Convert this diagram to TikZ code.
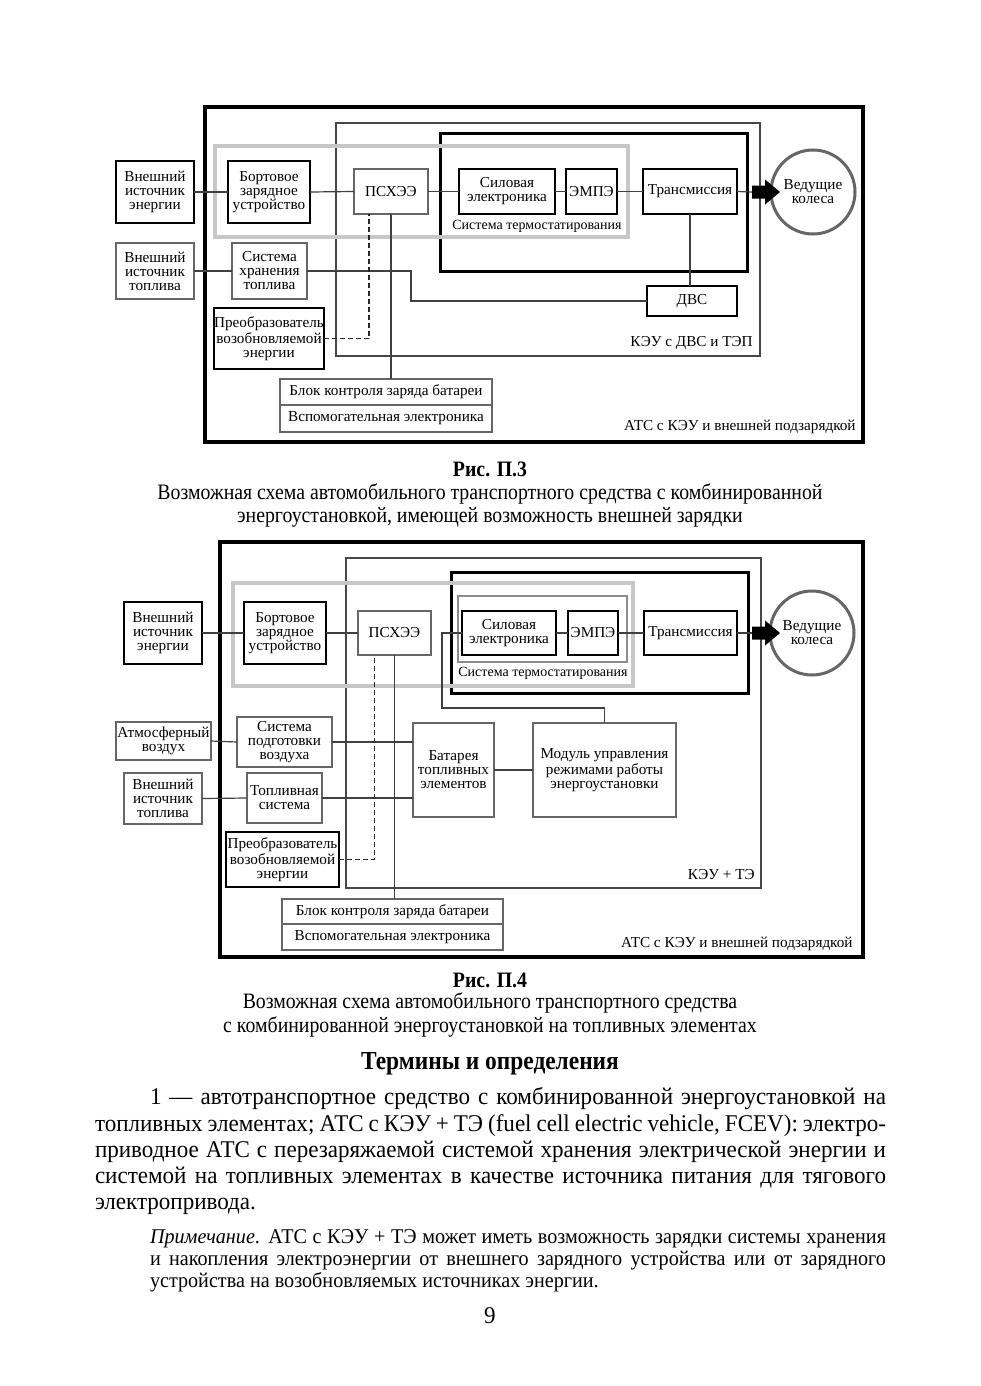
\documentclass[tikz,border=0pt]{standalone}
\usepackage{fontspec}
\setmainfont{Liberation Serif}
\newfontfamily\narrowff[FakeStretch=0.9]{Liberation Serif}
\newfontfamily\bodyff[FakeStretch=0.96]{Liberation Serif}
\usetikzlibrary{calc}
\newcommand\dgfont{\fontsize{7.6}{7}\selectfont}
\newcommand\capfont{\narrowff\fontsize{11}{12}\selectfont}
\newcommand\bodyfont{\bodyff\fontsize{12}{13}\selectfont}
\newcommand\notefont{\bodyff\fontsize{10.5}{11}\selectfont}
\newcommand\bx[7]{\node[#1, minimum width={(#5-#3)*0.5pt}, minimum height={(#6-#4)*0.5pt}] (#2) at ({(#3+#5)/2},{(#4+#6)/2}) {#7};}
\newcommand\bigarrowat[1]{\fill[black] (#1) ++(0,-6.5) -- ++(13,0) -- ++(0,-6) -- ++(15,12.5) -- ++(-15,12.5) -- ++(0,-6) -- ++(-13,0) -- cycle;}
\tikzset{
  box/.style={inner sep=0pt, outer sep=0pt, align=center, font=\dgfont},
  thickbox/.style={box, draw=black, line width=1.4pt},
  thinbox/.style={box, draw=black!60, line width=0.6pt},
  medbox/.style={box, draw=black, line width=1pt},
  conn/.style={draw=black!75, line width=0.6pt},
  dconn/.style={draw=black!85, line width=0.8pt, dash pattern=on 2.5pt off 1.5pt},
  atsframe/.style={draw=black, line width=1.7pt},
  keuframe/.style={draw=black!72, line width=1.3pt},
  innerframe/.style={draw=black, line width=1.5pt},
  thermoframe/.style={draw=black!22, line width=1.8pt},
  thinframe/.style={draw=black!45, line width=0.6pt},
  wheel/.style={circle, draw=black!60, line width=1.5pt, inner sep=0pt, minimum size=42pt, align=center, font=\dgfont},
  lbl/.style={inner sep=0pt, font=\dgfont},
  smalllbl/.style={inner sep=0pt, font=\fontsize{7}{7}\selectfont},
  txt/.style={inner sep=0pt, outer sep=0pt},
}
\begin{document}
\begin{tikzpicture}[x=0.5pt,y=-0.5pt]
\useasboundingbox[fill=white] (0,0) rectangle (980,1386);

% ================= TOP DIAGRAM =================
\draw[atsframe] (205,107) rectangle (863,442);
\draw[keuframe] (336,123) rectangle (760,356);
\draw[innerframe] (440,134) rectangle (747,271);
\draw[thermoframe] (215,146) rectangle (628,237);

\bx{thickbox}{Tenergy}{116}{161}{194}{223}{Внешний\\источник\\энергии}
\bx{thickbox}{Tcharger}{228}{161}{310}{223}{Бортовое\\зарядное\\устройство}
\bx{thinbox}{Tpsx}{354}{169}{428}{214}{ПСХЭЭ}
\bx{thickbox}{Tpower}{459}{169}{555}{214}{Силовая\\электроника}
\bx{thickbox}{Temp}{566}{169}{617}{214}{ЭМПЭ}
\bx{thickbox}{Ttrans}{643}{169}{737}{214}{Трансмиссия}
\bx{thinbox}{Tfuel}{116}{243}{194}{299}{Внешний\\источник\\топлива}
\bx{thinbox}{Tstore}{232}{243}{307}{299}{Система\\хранения\\топлива}
\bx{medbox}{Tice}{647}{286}{737}{316}{ДВС}
\bx{thickbox}{Tconv}{214}{308}{324}{369}{Преобразователь\\возобновляемой\\энергии}
\bx{thinbox}{Tbms}{280}{379}{492}{405}{Блок контроля заряда батареи}
\bx{thinbox}{Taux}{280}{405}{492}{432}{Вспомогательная электроника}
\node[wheel] (Twheels) at (813,192) {Ведущие\\колеса};
\coordinate (Tarr) at (752,192);
\bigarrowat{Tarr}

\node[smalllbl] (Tthermo) at (537,226) {Система термостатирования};
\node[lbl, anchor=east] (Tkeu) at (753,343) {КЭУ с ДВС и ТЭП};
\node[lbl, anchor=east] (Tats) at (856,427) {АТС с КЭУ и внешней подзарядкой};

\draw[conn] (Tenergy.east) -- (Tcharger.west);
\draw[conn] (Tcharger.east) -- (Tpsx.west);
\draw[conn] (Tpsx.east) -- (Tpower.west);
\draw[conn] (Tpower.east) -- (Temp.west);
\draw[conn] (Temp.east) -- (Ttrans.west);
\draw[conn] (Ttrans.east) -- (Tarr);
\draw[conn] (Tfuel.east) -- (Tstore.west);
\draw[conn] (Tstore.east) -- ++(104,0) |- (Tice.west);
\draw[conn] (Ttrans.south) -- (Ttrans.south |- Tice.north);
\draw[dconn] (Tconv.east) -| ($(Tpsx.south)+(-22,0)$);
\draw[conn] (Tpsx.south) -- (Tpsx.south |- Tbms.north);

% ================= CAPTION 1 =================
\node[txt, anchor=base] (cap1a) at (490,476) {\capfont\bfseries Рис. П.3};
\node[txt, anchor=base] (cap1b) at (490,499) {\capfont Возможная схема автомобильного транспортного средства с комбинированной};
\node[txt, anchor=base] (cap1c) at (490,522) {\capfont энергоустановкой, имеющей возможность внешней зарядки};

% ================= BOTTOM DIAGRAM =================
\draw[atsframe] (220,542) rectangle (863,957);
\draw[keuframe] (346,558) rectangle (761,888);
\draw[innerframe] (451,572) rectangle (748,693);
\draw[thermoframe] (233,583) rectangle (633,686);
\draw[thinframe] (458,596) rectangle (627,662);

\bx{thickbox}{Benergy}{124}{602}{202}{664}{Внешний\\источник\\энергии}
\bx{thickbox}{Bcharger}{244}{602}{326}{664}{Бортовое\\зарядное\\устройство}
\bx{thinbox}{Bpsx}{358}{611}{431}{655}{ПСХЭЭ}
\bx{thickbox}{Bpower}{462}{611}{556}{655}{Силовая\\электроника}
\bx{thickbox}{Bemp}{568}{611}{618}{655}{ЭМПЭ}
\bx{thickbox}{Btrans}{644}{611}{737}{655}{Трансмиссия}
\bx{thinbox}{Bair}{116}{722}{211}{760}{Атмосферный\\воздух}
\bx{thinbox}{Bairprep}{237}{717}{332}{767}{Система\\подготовки\\воздуха}
\bx{thinbox}{Bstack}{413}{723}{494}{817}{Батарея\\топливных\\элементов}
\bx{thinbox}{Bctrl}{533}{723}{676}{817}{Модуль управления\\режимами работы\\энергоустановки}
\bx{thinbox}{Bfuel}{124}{773}{202}{824}{Внешний\\источник\\топлива}
\bx{thinbox}{Bfuelsys}{247}{773}{322}{823}{Топливная\\система}
\bx{thickbox}{Bconv}{226}{832}{339}{887}{Преобразователь\\возобновляемой\\энергии}
\bx{thinbox}{Bbms}{282}{899}{503}{924}{Блок контроля заряда батареи}
\bx{thinbox}{Baux}{282}{924}{503}{950}{Вспомогательная электроника}
\node[wheel] (Bwheels) at (812,633) {Ведущие\\колеса};
\coordinate (Barr) at (752,633);
\bigarrowat{Barr}

\node[smalllbl] (Bthermo) at (543,673) {Система термостатирования};
\node[lbl, anchor=east] (Bkeu) at (755,875) {КЭУ + ТЭ};
\node[lbl, anchor=east] (Bats) at (853,944) {АТС с КЭУ и внешней подзарядкой};

\draw[conn] (Benergy.east) -- (Bcharger.west);
\draw[conn] (Bcharger.east) -- (Bpsx.west);
\draw[conn] (Bpower.east) -- (Bemp.west);
\draw[conn] (Bemp.east) -- (Btrans.west);
\draw[conn] (Btrans.east) -- (Barr);
\draw[conn] (Bpower.west) -- ++(-20,0) |- ($(Bctrl.north)+(0,-15)$) -- (Bctrl.north);
\draw[conn] (Bair.east) -- (Bairprep.west);
\draw[conn] (Bairprep.east) -- (Bairprep.east -| Bstack.west);
\draw[conn] (Bfuel.east) -- (Bfuelsys.west);
\draw[conn] (Bfuelsys.east) -- (Bfuelsys.east -| Bstack.west);
\draw[conn] (Bstack.east) -- (Bctrl.west);
\draw[dconn] (Bconv.east) -| ($(Bpsx.south)+(-20,0)$);
\draw[conn] (Bpsx.south) -- (Bpsx.south |- Bbms.north);

% ================= CAPTION 2 =================
\node[txt, anchor=base] (cap2a) at (490,987) {\capfont\bfseries Рис. П.4};
\node[txt, anchor=base] (cap2b) at (490,1008) {\capfont Возможная схема автомобильного транспортного средства};
\node[txt, anchor=base] (cap2c) at (490,1032) {\capfont с комбинированной энергоустановкой на топливных элементах};

% ================= TEXT =================
\node[txt, anchor=base] (head) at (490,1069) {\narrowff\fontsize{13}{14}\selectfont\bfseries Термины и определения};
\node[txt, anchor=base west] (p1) at (150,1104) {\bodyfont\makebox[368pt][s]{1 — автотранспортное средство с комбинированной энергоустановкой на}};
\node[txt, anchor=base west] (p2) at (95,1131) {\bodyfont\makebox[395.5pt][s]{топливных элементах; АТС с КЭУ + ТЭ (fuel cell electric vehicle, FCEV): электро-}};
\node[txt, anchor=base west] (p3) at (95,1157) {\bodyfont\makebox[395.5pt][s]{приводное АТС с перезаряжаемой системой хранения электрической энергии и}};
\node[txt, anchor=base west] (p4) at (95,1183) {\bodyfont\makebox[395.5pt][s]{системой на топливных элементах в качестве источника питания для тягового}};
\node[txt, anchor=base west] (p5) at (95,1209) {\bodyfont электропривода.};
\node[txt, anchor=base west] (n1) at (150,1243) {\notefont\makebox[368pt][s]{\textit{Примечание}. АТС с КЭУ + ТЭ может иметь возможность зарядки системы хранения}};
\node[txt, anchor=base west] (n2) at (150,1265) {\notefont\makebox[368pt][s]{и накопления электроэнергии от внешнего зарядного устройства или от зарядного}};
\node[txt, anchor=base west] (n3) at (150,1287) {\notefont устройства на возобновляемых источниках энергии.};
\node[txt, anchor=base] (pg) at (490,1323) {\bodyfont 9};
\end{tikzpicture}
\end{document}
